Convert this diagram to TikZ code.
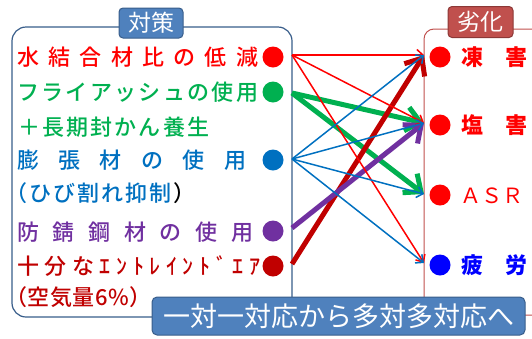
\documentclass[tikz,border=0pt]{standalone}
\usepackage{fontspec}
\newfontfamily\jp{Noto Sans CJK JP}
\newfontfamily\jpm{Noto Sans CJK JP}[UprightFont=* Medium]
\usetikzlibrary{arrows.meta}
\definecolor{cred}{HTML}{FF0000}
\definecolor{cgreen}{HTML}{00B050}
\definecolor{cblue}{HTML}{0070C0}
\definecolor{cpurple}{HTML}{7030A0}
\definecolor{cdred}{HTML}{C00000}
\definecolor{cfblue}{HTML}{0000FF}
\definecolor{tblue}{HTML}{4F81BD}
\definecolor{tblueb}{HTML}{385D8A}
\definecolor{tred}{HTML}{C0504D}
\definecolor{tredb}{HTML}{8C3836}
\makeatletter
\def\spr@loop#1{\ifx#1\relax\else\hfill#1\expandafter\spr@loop\fi}
\def\spr@first#1{#1\spr@loop}
\newcommand\spreadtext[2]{\makebox[#1][l]{\spr@first#2\relax}}
\makeatother
\newcommand\blkparen{\textcolor{black}{）}}
\begin{document}
\begin{tikzpicture}[x=1pt,y=-1pt,
  lt/.style={anchor=base west, inner sep=0pt, font=\jpm\fontsize{22}{22}\selectfont},
  rt/.style={anchor=base west, inner sep=0pt, font=\jp\bfseries\fontsize{22}{22}\selectfont},
  titlebox/.style={rounded corners=4pt, line width=1pt, inner sep=0pt, text=white,
     font=\jp\fontsize{23}{23}\selectfont},
  dot/.style={circle, inner sep=0pt, minimum size=21pt},
  thin/.style={line width=1.5pt, -{Straight Barb[length=6pt,width=11pt]}},
  thick/.style={line width=5pt, -{Straight Barb[length=14pt,width=24pt]}},
]
\useasboundingbox (0,0) rectangle (532,338);
\clip (0,0) rectangle (532,338);
% frames
\draw[draw=tblueb, line width=1.2pt, rounded corners=14pt] (12,27) rectangle (292,317);
\draw[draw=tred, line width=1pt, rounded corners=10pt] (424,29) rectangle (570,315);
% titles
\node[titlebox, fill=tblue, draw=tblueb, minimum width=64pt, minimum height=30pt] (tA) at (151,23) {対策};
\node[titlebox, fill=tred, draw=tredb, minimum width=65pt, minimum height=31pt] (tB) at (480.5,22) {劣化};
% left texts
\node[lt, text=cred] (t1) at (17,65) {\spreadtext{241pt}{水結合材比の低減}};
\node[lt, text=cgreen] (t2) at (17,100) {\spreadtext{241pt}{フライアッシュの使用}};
\node[lt, text=cgreen] (t3) at (18,135) {\spreadtext{191pt}{＋長期封かん養生}};
\node[lt, text=cblue] (t4) at (17,168) {\spreadtext{229pt}{膨張材の使用}};
\node[lt, text=cblue] (t5) at (5,201) {\spreadtext{190pt}{（ひび割れ抑制\blkparen}};
\node[lt, text=cpurple] (t6) at (17,240) {\spreadtext{236pt}{防錆鋼材の使用}};
\node[lt, text=cdred] (t7) at (17,274) {\spreadtext{243pt}{十分なｴﾝﾄﾚｲﾝﾄﾞｴｱ}};
\node[lt, text=cdred] (t8) at (5,305) {\spreadtext{146pt}{（空気量6\%）}};
% left dots
\node[dot, fill=cred] (l1) at (273,57) {};
\node[dot, fill=cgreen] (l2) at (273,92) {};
\node[dot, fill=cblue] (l3) at (273,160) {};
\node[dot, fill=cpurple] (l4) at (273,231) {};
\node[dot, fill=cdred] (l5) at (273,266) {};
% right dots
\node[dot, fill=cred] (r1) at (440,57) {};
\node[dot, fill=cred] (r2) at (440,125) {};
\node[dot, fill=cred] (r3) at (440,195) {};
\node[dot, fill=cfblue] (r4) at (440,265) {};
% right texts
\node[rt, text=cred] (u1) at (461,65) {\spreadtext{66pt}{凍害}};
\node[rt, text=cred] (u2) at (461,133) {\spreadtext{66pt}{塩害}};
\node[rt, text=cred, font=\jp\fontsize{21}{21}\selectfont] (u3) at (460,203) {ＡＳＲ};
\node[rt, text=cfblue] (u4) at (461,273) {\spreadtext{66pt}{疲労}};
% connector ends
\coordinate (s1) at (292,55);
\coordinate (s2) at (292,93);
\coordinate (s3) at (292,159);
\coordinate (s4) at (292,228);
\coordinate (s5) at (292,264);
\coordinate (e1) at (424,55);
\coordinate (e2) at (424,123);
\coordinate (e3) at (424,194);
\coordinate (e4) at (424,263);
% thick arrows
\draw[thick, cgreen] (s2) -- (e2);
\draw[thick, cgreen] (s2) -- (e3);
\draw[thick, cdred] (s5) -- (e1);
\draw[thick, cpurple] (s4) -- (e2);
% thin arrows
\draw[thin, cred] (s1) -- (e1);
\draw[thin, cred] (s1) -- (e2);
\draw[thin, cred] (s1) -- (e4);
\draw[thin, cblue] (s3) -- (e1);
\draw[thin, cblue] (s3) -- (e2);
\draw[thin, cblue] (s3) -- (e3);
\draw[thin, cblue] (s3) -- (e4);
% banner
\node[titlebox, fill=tblue, draw=tblueb, rounded corners=5pt, minimum width=373pt, minimum height=38pt,
  font=\jp\fontsize{27}{27}\selectfont] (bn) at (338.5,316) {一対一対応から多対多対応へ};
\end{tikzpicture}
\end{document}
